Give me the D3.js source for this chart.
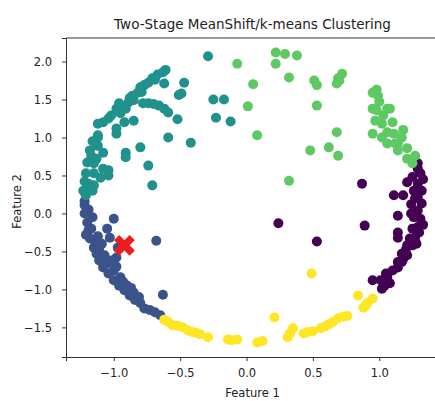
<!DOCTYPE html>
<html>
<head>
<meta charset="utf-8">
<script src="https://cdn.jsdelivr.net/npm/d3@7"></script>
<style>
  body { margin: 0; background: #fff; }
  text { font-family: "DejaVu Sans", sans-serif; fill: #222; }
</style>
</head>
<body>
<svg id="chart" width="435" height="401"></svg>
<script>
// cluster points (Feature 1, Feature 2)
const purple = [[1.29,0.66],[1.31,0.53],[1.29,0.59],[1.29,0.39],[1.32,0.30],[1.29,0.21],[1.32,0.13],[1.29,0.04],[1.31,-0.07],[1.29,-0.18],[1.27,-0.32],[1.25,-0.42],[1.21,-0.55],[1.17,-0.64],[1.21,0.41],[1.11,0.24],[1.18,0.24],[1.14,-0.03],[1.14,-0.25],[1.14,-0.32],[0.87,0.39],[0.89,-0.16],[0.24,-0.13],[0.53,-0.37],[0.95,-0.88],[1.02,-0.99],[1.06,-0.84],[1.10,-0.75],[1.14,-0.64],[1.17,-0.53],[1.21,-0.42],[1.23,-0.33],[1.08,-0.92],[1.01,-0.88],[1.05,-0.79],[1.14,-0.71],[1.25,0.48],[1.26,0.30],[1.24,0.12],[1.26,-0.05],[1.33,0.45],[1.33,-0.15],[1.30,-0.25],[1.25,-0.20],[1.24,0.00],[1.20,-0.48],[1.18,-0.60],[1.04,-0.95],[1.27,0.20],[1.28,-0.40]];
const blue = [[-1.22,0.16],[-1.22,0.11],[-1.22,0.00],[-1.20,-0.12],[-1.19,-0.22],[-1.18,-0.33],[-1.15,-0.45],[-1.13,-0.53],[-1.11,-0.62],[-1.08,-0.71],[-1.04,-0.79],[-1.00,-0.88],[-0.96,-0.95],[-0.92,-1.01],[-0.88,-1.08],[-0.84,-1.14],[-0.77,-1.25],[-0.69,-1.30],[-0.65,-1.34],[-1.17,-0.20],[-1.14,-0.38],[-1.11,-0.46],[-1.07,-0.55],[-1.05,-0.66],[-1.00,-0.75],[-0.95,-0.84],[-0.90,-0.95],[-0.85,-1.04],[-0.81,-1.10],[-1.00,-0.07],[-1.05,-0.20],[-1.03,-0.32],[-0.98,-0.58],[-0.68,-0.36],[-0.63,-1.07],[-1.19,0.05],[-1.16,-0.05],[-1.21,-0.28],[-1.12,-0.30],[-1.09,-0.40],[-1.02,-0.62],[-0.98,-0.70],[-0.93,-0.90],[-0.87,-0.98],[-0.80,-1.18],[-0.73,-1.27],[-0.97,-0.45]];
const teal = [[-0.29,2.07],[-0.61,1.89],[-0.63,1.86],[-0.67,1.83],[-0.71,1.78],[-0.74,1.72],[-0.47,1.72],[-0.62,1.71],[-0.51,1.56],[-0.80,1.66],[-0.82,1.59],[-0.86,1.55],[-0.85,1.49],[-0.78,1.45],[-0.74,1.45],[-0.66,1.42],[-0.62,1.38],[-0.59,1.33],[-0.52,1.24],[-0.89,1.46],[-0.91,1.38],[-0.95,1.32],[-0.98,1.38],[-1.02,1.29],[-1.08,1.20],[-1.12,1.18],[-0.98,1.12],[-0.85,1.22],[-0.92,1.20],[-0.25,1.50],[-0.17,1.50],[-0.23,1.26],[-0.12,1.21],[-1.12,1.03],[-0.59,1.00],[-0.42,0.93],[-1.12,1.00],[-0.98,1.05],[-1.12,0.89],[-1.08,0.80],[-1.17,0.76],[-1.20,0.67],[-1.15,0.66],[-1.08,0.59],[-1.04,0.57],[-1.21,0.53],[-1.15,0.53],[-1.10,0.47],[-1.04,0.50],[-1.19,0.39],[-1.15,0.37],[-1.23,0.30],[-1.20,0.33],[-1.21,0.24],[-0.91,0.80],[-0.91,0.74],[-0.80,0.87],[-0.74,0.63],[-0.71,0.37],[-0.49,1.58],[-0.69,1.76],[-0.77,1.69],[-0.88,1.52],[-0.96,1.45],[-1.04,1.25],[-1.16,0.95],[-1.18,0.83],[-1.13,0.72],[-1.22,0.42],[-1.16,0.30],[-0.79,1.60],[-0.70,1.44]];
const green = [[-0.07,1.97],[0.05,1.70],[0.01,1.41],[0.08,1.03],[0.22,2.12],[0.22,1.97],[0.29,2.10],[0.38,2.08],[0.32,1.79],[0.51,1.75],[0.53,1.69],[0.53,1.42],[0.68,1.71],[0.69,1.78],[0.72,1.84],[0.70,1.75],[0.68,1.07],[0.95,1.59],[0.99,1.55],[0.95,1.38],[0.98,1.36],[1.06,1.38],[1.08,1.38],[1.03,1.29],[0.97,1.22],[1.02,1.18],[0.95,1.05],[1.06,1.07],[1.11,1.05],[1.18,1.10],[1.14,0.92],[0.62,0.87],[0.48,0.83],[0.69,0.76],[0.32,0.43],[1.06,0.92],[1.12,0.92],[1.14,0.83],[1.21,0.86],[1.21,0.72],[1.27,0.76],[1.25,0.66],[1.00,1.47],[1.10,1.20],[1.17,1.00],[0.98,1.63],[1.02,1.00]];
const yellow = [[-0.62,-1.40],[-0.59,-1.43],[-0.56,-1.47],[-0.48,-1.50],[-0.44,-1.54],[-0.41,-1.56],[-0.35,-1.59],[-0.29,-1.63],[-0.14,-1.66],[-0.11,-1.67],[-0.07,-1.66],[0.08,-1.70],[0.12,-1.68],[0.21,-1.37],[0.31,-1.63],[0.33,-1.57],[0.35,-1.51],[0.43,-1.58],[0.49,-0.79],[0.50,-1.55],[0.56,-1.51],[0.59,-1.49],[0.62,-1.46],[0.69,-1.38],[0.76,-1.35],[0.84,-1.08],[0.88,-1.24],[0.91,-1.18],[0.95,-1.12],[-0.52,-1.48],[-0.38,-1.57],[0.46,-1.56],[0.65,-1.43],[0.73,-1.36],[0.90,-1.21]];
const centers = [[-0.92,-0.42]];

const clusters = [purple, blue, teal, green, yellow];
const colors = ["#440154", "#3b528b", "#21918c", "#5ec962", "#fde725"];
const xTicks = [-1.0, -0.5, 0.0, 0.5, 1.0];
const yTicks = [-1.5, -1.0, -0.5, 0.0, 0.5, 1.0, 1.5, 2.0];

const svg = d3.select("#chart");
const m = { left: 66, right: 439, top: 38, bottom: 357 };

const x = d3.scaleLinear().domain([-1.36, 1.45]).range([m.left, m.right]);
const y = d3.scaleLinear().domain([-1.89, 2.31]).range([m.bottom, m.top]);

const fmt = d => d3.format(".1f")(d).replace("-", "\u2212");

// points
clusters.forEach((pts, i) => {
    svg.append("g")
        .selectAll("circle")
        .data(pts)
        .enter()
        .append("circle")
        .attr("cx", d => x(d[0]))
        .attr("cy", d => y(d[1]))
        .attr("r", 5)
        .style("fill", colors[i]);
});

// red X for the center
svg.append("g")
    .selectAll("path")
    .data(centers)
    .enter()
    .append("path")
    .attr("d", d3.symbol().type(d3.symbolCross).size(270))
    .attr("transform", d => `translate(${x(d[0])},${y(d[1])}) rotate(45)`)
    .style("fill", "#ee1c1c");

// axes
const xAxis = svg.append("g")
    .attr("transform", `translate(0,${m.bottom})`)
    .call(d3.axisBottom(x).tickValues(xTicks).tickFormat(fmt).tickSizeOuter(0).tickSize(4).tickPadding(8));
const yAxis = svg.append("g")
    .attr("transform", `translate(${m.left},0)`)
    .call(d3.axisLeft(y).tickValues(yTicks).tickFormat(fmt).tickSizeOuter(0).tickSize(4).tickPadding(10));

[xAxis, yAxis].forEach(a => {
    a.selectAll("text").style("font-size", "11.5px").style("font-family", "DejaVu Sans").attr("fill", "#2a2a2a");
    a.selectAll("line").attr("stroke", "#333");
    a.select(".domain").attr("stroke", "#333");
});

// top spine
svg.append("line")
    .attr("x1", m.left).attr("x2", m.right)
    .attr("y1", m.top).attr("y2", m.top)
    .attr("stroke", "#333");

// titles
svg.append("text")
    .attr("x", (m.left + m.right) / 2).attr("y", 29)
    .attr("text-anchor", "middle")
    .style("font-size", "13.5px")
    .text("Two-Stage MeanShift/k-means Clustering");

svg.append("text")
    .attr("x", (m.left + m.right) / 2).attr("y", 397)
    .attr("text-anchor", "middle")
    .style("font-size", "11.5px")
    .text("Feature 1");

svg.append("text")
    .attr("transform", `translate(21,${(m.top + m.bottom) / 2 + 4}) rotate(-90)`)
    .attr("text-anchor", "middle")
    .style("font-size", "11.5px")
    .text("Feature 2");
</script>
</body>
</html>
